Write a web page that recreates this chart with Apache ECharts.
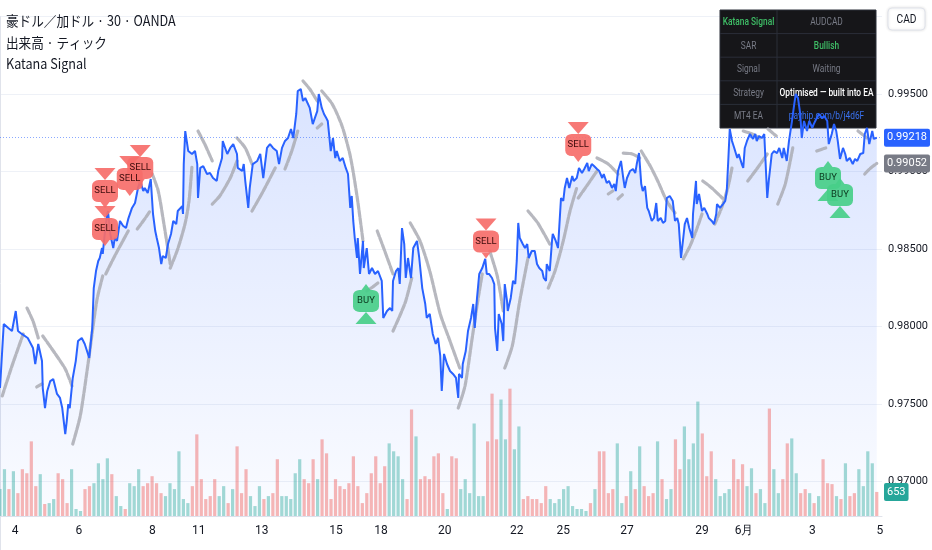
<!DOCTYPE html>
<html><head><meta charset="utf-8">
<script src="https://cdn.jsdelivr.net/npm/echarts@6/dist/echarts.min.js"></script>
<style>html,body{margin:0;padding:0;background:#fff}#c{width:932px;height:550px}</style>
</head><body><div id="c"></div>
<script>
// ---------- DATA ----------
const titleLines = ['豪ドル／加ドル · 30 · OANDA', '出来高 · ティック', 'Katana Signal'];
const currencyLabel = 'CAD';
// x = 30-minute bar index, y = AUDCAD price
const pricePoints = [[0,0.97603],[5,0.98016],[11,0.97990],[16,0.97971],[21,0.98100],[24,0.97971],[29,0.97952],[37,0.97926],[44,0.97861],[47,0.97758],[51,0.97887],[56,0.97777],[57,0.97603],[60,0.97474],[63,0.97584],[67,0.97648],[71,0.97661],[76,0.97565],[80,0.97539],[83,0.97474],[87,0.97306],[89,0.97390],[91,0.97500],[93,0.97474],[97,0.97668],[101,0.97777],[104,0.97906],[109,0.97926],[113,0.97887],[116,0.97842],[119,0.97797],[123,0.97990],[125,0.98248],[128,0.98358],[131,0.98423],[133,0.98442],[136,0.98506],[137,0.98468],[140,0.98616],[143,0.98726],[144,0.98745],[147,0.98597],[151,0.98506],[153,0.98571],[156,0.98552],[160,0.98681],[164,0.98650],[168,0.98635],[171,0.98694],[176,0.98765],[180,0.98797],[184,0.98894],[187,0.98939],[191,0.98874],[193,0.98894],[197,0.98861],[201,0.98952],[204,0.98726],[207,0.98616],[209,0.98571],[212,0.98506],[215,0.98403],[217,0.98455],[221,0.98442],[224,0.98532],[228,0.98597],[231,0.98681],[235,0.98661],[237,0.98745],[243,0.98777],[244,0.98726],[245,0.99048],[247,0.99261],[251,0.99132],[256,0.99113],[260,0.99132],[263,0.99048],[264,0.98829],[267,0.99023],[271,0.99035],[276,0.98984],[280,0.98990],[284,0.98958],[289,0.98939],[291,0.99003],[296,0.99087],[297,0.99197],[303,0.99113],[307,0.99152],[311,0.99177],[316,0.99113],[317,0.99023],[323,0.99003],[325,0.99048],[327,0.98939],[331,0.98765],[333,0.98894],[337,0.99048],[343,0.99068],[347,0.99113],[351,0.98958],[356,0.99152],[360,0.99177],[364,0.99152],[369,0.99132],[372,0.99048],[376,0.99152],[380,0.99197],[384,0.99216],[388,0.99274],[391,0.99216],[395,0.99371],[397,0.99519],[401,0.99532],[404,0.99455],[407,0.99474],[409,0.99474],[413,0.99410],[417,0.99306],[423,0.99390],[425,0.99500],[429,0.99410],[432,0.99371],[435,0.99345],[437,0.99326],[441,0.99132],[444,0.99216],[447,0.99087],[449,0.99132],[453,0.99068],[457,0.99087],[461,0.99023],[464,0.98984],[467,0.98765],[469,0.98842],[471,0.98681],[473,0.98571],[476,0.98442],[477,0.98571],[480,0.98339],[484,0.98552],[485,0.98377],[489,0.98506],[492,0.98339],[496,0.98377],[500,0.98339],[504,0.98358],[509,0.98294],[511,0.98055],[516,0.98100],[520,0.98119],[523,0.98100],[524,0.98294],[528,0.98358],[531,0.98377],[533,0.98274],[536,0.98635],[539,0.98532],[541,0.98313],[544,0.98442],[548,0.98313],[551,0.98506],[556,0.98552],[559,0.98442],[563,0.98248],[567,0.98145],[569,0.98055],[573,0.98081],[577,0.97952],[581,0.97887],[584,0.97926],[587,0.97810],[589,0.97584],[592,0.97823],[596,0.97758],[600,0.97713],[604,0.97694],[608,0.97668],[611,0.97539],[612,0.97694],[616,0.97668],[617,0.97758],[621,0.97842],[624,0.97971],[628,0.98055],[631,0.98145],[633,0.97990],[636,0.98184],[639,0.98339],[643,0.98377],[647,0.98436],[649,0.98339],[652,0.98339],[656,0.98313],[659,0.98274],[660,0.97990],[663,0.97842],[665,0.98081],[669,0.98016],[671,0.97906],[673,0.98274],[676,0.98165],[677,0.98100],[681,0.98184],[684,0.98294],[687,0.98274],[689,0.98423],[691,0.98668],[693,0.98571],[697,0.98532],[700,0.98506],[703,0.98532],[705,0.98442],[709,0.98487],[713,0.98487],[716,0.98403],[719,0.98377],[723,0.98358],[725,0.98313],[728,0.98294],[729,0.98403],[733,0.98358],[736,0.98552],[737,0.98597],[741,0.98552],[744,0.98506],[748,0.98829],[751,0.98810],[753,0.98894],[756,0.98958],[759,0.98894],[763,0.98971],[765,0.98939],[769,0.98958],[772,0.99023],[776,0.98990],[779,0.99016],[783,0.99055],[785,0.99003],[789,0.99048],[792,0.99035],[796,0.99016],[799,0.99003],[803,0.98958],[805,0.98984],[809,0.98926],[812,0.98939],[816,0.98894],[819,0.98919],[821,0.98874],[824,0.99003],[828,0.99068],[831,0.98958],[833,0.98894],[836,0.98958],[840,0.99003],[844,0.99016],[847,0.98990],[849,0.99048],[852,0.99119],[855,0.98919],[857,0.98874],[860,0.98906],[863,0.98765],[865,0.98745],[869,0.98681],[872,0.98700],[875,0.98797],[877,0.98681],[881,0.98700],[884,0.98668],[887,0.98681],[889,0.98829],[893,0.98842],[897,0.98810],[900,0.98681],[903,0.98700],[905,0.98661],[908,0.98442],[911,0.98571],[913,0.98661],[916,0.98700],[919,0.98635],[923,0.98571],[924,0.98726],[928,0.98939],[929,0.98790],[932,0.98855],[936,0.98745],[939,0.98765],[943,0.98726],[945,0.98700],[949,0.98681],[952,0.98661],[955,0.98726],[956,0.98790],[960,0.98765],[964,0.98790],[967,0.98810],[969,0.98874],[971,0.99068],[973,0.99274],[976,0.99197],[979,0.99152],[983,0.99087],[985,0.99113],[989,0.99048],[991,0.99023],[993,0.99152],[996,0.99197],[1000,0.99242],[1004,0.99210],[1007,0.99242],[1009,0.99197],[1012,0.99229],[1016,0.99216],[1019,0.99242],[1021,0.99248],[1023,0.98829],[1025,0.98939],[1029,0.99113],[1032,0.99132],[1036,0.99119],[1039,0.99152],[1043,0.99087],[1045,0.99152],[1049,0.99068],[1052,0.99197],[1056,0.99326],[1059,0.99435],[1061,0.99500],[1064,0.99474],[1067,0.99371],[1069,0.99216],[1072,0.99326],[1076,0.99261],[1079,0.99326],[1083,0.99281],[1085,0.99306],[1089,0.99345],[1092,0.99371],[1096,0.99345],[1099,0.99358],[1103,0.99326],[1105,0.99177],[1109,0.99242],[1112,0.99306],[1115,0.99261],[1117,0.99197],[1120,0.99081],[1124,0.99152],[1127,0.99113],[1129,0.99068],[1133,0.99087],[1137,0.99048],[1140,0.99081],[1143,0.99068],[1147,0.99113],[1151,0.99119],[1153,0.99242],[1156,0.99281],[1159,0.99177],[1163,0.99261],[1165,0.99210],[1169,0.99218]];

// Parabolic SAR segments (each a list of [bar, value])
const sarSegments = [
 [[3,0.97552],[16,0.97746],[31,0.97952]],
 [[36,0.98119],[44,0.98035],[51,0.97926]],
 [[49,0.97610],[56,0.97629]],
 [[57,0.97939],[73,0.97829],[87,0.97726],[96,0.97616]],
 [[97,0.97242],[107,0.97423],[117,0.97746],[129,0.98165],[137,0.98326]],
 [[141,0.98339],[153,0.98455],[171,0.98616]],
 [[183,0.98629],[193,0.98694],[200,0.98745]],
 [[203,0.98984],[211,0.98874],[219,0.98648],[227,0.98403]],
 [[227,0.98377],[237,0.98500],[247,0.98668],[252,0.98810],[256,0.99035]],
 [[264,0.99261],[273,0.99177],[283,0.99068]],
 [[283,0.98790],[293,0.98842],[307,0.98958],[316,0.99068]],
 [[316,0.99216],[327,0.99152],[336,0.99048]],
 [[336,0.98745],[351,0.98874],[367,0.99023]],
 [[380,0.99016],[389,0.99132],[397,0.99261]],
 [[404,0.99584],[413,0.99532],[423,0.99455]],
 [[423,0.99281],[429,0.99306]],
 [[429,0.99519],[443,0.99435],[456,0.99294],[467,0.99100],[476,0.98842],[484,0.98552]],
 [[489,0.98229],[497,0.98255],[504,0.98281]],
 [[503,0.98616],[513,0.98487],[524,0.98339]],
 [[524,0.97971],[533,0.98068],[541,0.98165],[549,0.98313]],
 [[547,0.98668],[560,0.98552],[573,0.98358],[587,0.98081],[600,0.97906],[613,0.97732]],
 [[611,0.97474],[620,0.97616],[629,0.97906],[637,0.98165],[643,0.98339]],
 [[653,0.98487],[663,0.98326],[671,0.98100]],
 [[673,0.97732],[683,0.97874],[693,0.98165],[704,0.98442]],
 [[704,0.98745],[717,0.98668],[733,0.98532]],
 [[731,0.98248],[740,0.98358],[751,0.98552],[760,0.98745],[769,0.98894]],
 [[771,0.98829],[784,0.98919],[796,0.99003]],
 [[796,0.99087],[811,0.99048],[824,0.98984]],
 [[811,0.98855],[817,0.98874]],
 [[824,0.98823],[831,0.98855]],
 [[831,0.99119],[843,0.99113],[853,0.99087]],
 [[855,0.99132],[867,0.99035],[877,0.98939],[889,0.98810],[900,0.98732]],
 [[911,0.98436],[920,0.98519],[929,0.98629],[936,0.98726]],
 [[937,0.98939],[949,0.98894],[963,0.98829]],
 [[953,0.98661],[963,0.98777],[971,0.98906],[976,0.99023]],
 [[991,0.99261],[1003,0.99242],[1013,0.99216]],
 [[997,0.98939],[1009,0.99016],[1023,0.99113]],
 [[1024,0.99274],[1035,0.99229]],
 [[1037,0.98790],[1047,0.98919],[1057,0.99152]],
 [[1089,0.99132],[1101,0.99152]],
 [[1144,0.99261],[1156,0.99216]],
 [[1153,0.98984],[1161,0.99023],[1169,0.99052]]
];

// Tick volume (evenly spaced samples across the period)
const volumeValues = [730,1270,730,1215,620,1270,1160,2025,810,1135,
325,350,460,1160,1000,350,1270,190,135,730,
810,890,1430,1000,1565,1135,540,270,190,890,
810,1270,810,890,1080,890,620,540,890,730,
1755,460,350,810,2215,1000,460,540,1000,540,
810,350,730,1890,620,1270,540,270,810,460,
540,620,1540,540,540,460,1160,1540,1000,890,
1540,1000,2080,1700,460,1000,810,730,890,1620,
810,350,620,1160,1620,890,1350,1970,1755,1620,
1000,460,2890,2160,1000,1080,1000,1620,
1700,620,190,1620,1565,730,1000,620,2510,540,
540,2025,3320,2080,3160,2080,3455,1810,2430,460,
540,460,460,350,810,460,350,460,730,810,
270,190,190,135,350,730,1755,1755,620,730,
1970,350,540,1215,730,1890,810,540,620,2025,
1000,460,730,2080,1270,2430,1540,1970,3105,2240,
1080,1755,1000,540,620,730,1540,1000,1405,810,
1295,620,730,350,2915,1270,620,1000,1970,2105,
1160,620,730,620,350,540,1540,890,865,540,
460,1430,540,620,1270,810,1755,1430,653];

const sellSignals = [[140,0.98874],[140,0.98629],[173,0.98952],[187,0.99023],[648,0.98548],[771,0.99171]];
const buySignals = [[488,0.98165],[1104,0.98958],[1120,0.98848]];

const dayTickBars = [20,105,203,265,349,448,508,593,689,751,836,936,992,1083,1173];
const dayTickLabels = ['4','6','8','11','13','15','18','20','22','25','27','29','6月','3','5'];

const tableRows = [
  ['Katana Signal','AUDCAD'],
  ['SAR','Bullish'],
  ['Signal','Waiting'],
  ['Strategy','Optimised — built into EA'],
  ['MT4 EA','payhip.com/b/j4d6F']
];
const tableColors = [
  ['#3fbf67','#787b86'],
  ['#787b86','#3fbf67'],
  ['#787b86','#787b86'],
  ['#787b86','#ffffff'],
  ['#787b86','#3a72f0']
];
const tableBold = [[true,false],[false,true],[false,false],[false,true],[false,false]];

const priceMin = 0.965, priceMax = 1.0, priceStep = 0.005;
const paneFloor = 0.9677;
const barMax = 1176;
const volumeMax = 3500;

// ---------- BUILD ----------
const FONT = "Roboto,'Noto Sans',sans-serif";
const lastPrice = pricePoints[pricePoints.length - 1][1];
const lastSarSeg = sarSegments[sarSegments.length - 1];
const lastSar = lastSarSeg[lastSarSeg.length - 1][1];
const lastVolume = volumeValues[volumeValues.length - 1];
const lastBar = pricePoints[pricePoints.length - 1][0];

function priceAt(b) {
  for (let i = 1; i < pricePoints.length; i++) {
    if (pricePoints[i][0] >= b) {
      const a = pricePoints[i - 1], c = pricePoints[i];
      const t = (b - a[0]) / ((c[0] - a[0]) || 1);
      return a[1] + (c[1] - a[1]) * t;
    }
  }
  return lastPrice;
}

const vStep = lastBar / (volumeValues.length - 1);
const volumeData = volumeValues.map((v, i) => {
  const b = i * vStep;
  const up = priceAt(b) >= priceAt(Math.max(0, b - vStep));
  return { value: [b, v], itemStyle: { color: up ? 'rgba(38,166,154,0.42)' : 'rgba(239,83,80,0.42)' } };
});

const sarData = [];
sarSegments.forEach((seg, i) => {
  if (i > 0) sarData.push([seg[0][0], '-']);
  seg.forEach(p => sarData.push(p));
});

const graphics = [];
titleLines.forEach((t, i) => {
  graphics.push({
    type: 'text', x: 6, y: 21 + i * 21.5, scaleX: 0.9, z: 20,
    style: { text: t, fill: '#131722', font: "14px 'Noto Sans CJK JP','Noto Sans',sans-serif", verticalAlign: 'middle' }
  });
});
const TX = 720, TY = 10, CW = [57, 99], RH = 23.6;
const tableChildren = [{
  type: 'rect', z: 3, shape: { x: 0, y: 0, width: CW[0] + CW[1], height: RH * tableRows.length },
  style: { fill: 'rgba(12,13,16,0.96)', stroke: '#2a2e39', lineWidth: 1 }
}];
for (let r = 1; r < tableRows.length; r++) {
  tableChildren.push({ type: 'line', z: 3, shape: { x1: 0, y1: r * RH, x2: CW[0] + CW[1], y2: r * RH }, style: { stroke: '#2a2e39', lineWidth: 1 } });
}
tableChildren.push({ type: 'line', z: 3, shape: { x1: CW[0], y1: 0, x2: CW[0], y2: RH * tableRows.length }, style: { stroke: '#2a2e39', lineWidth: 1 } });
tableRows.forEach((row, r) => {
  row.forEach((txt, c) => {
    tableChildren.push({
      type: 'text', z: 3, x: c === 0 ? CW[0] / 2 : CW[0] + CW[1] / 2, y: r * RH + RH / 2 + 0.5, scaleX: 0.76,
      style: { text: txt, fill: tableColors[r][c], align: 'center', verticalAlign: 'middle',
        font: (tableBold[r][c] ? '500 ' : '') + '11px ' + FONT }
    });
  });
});
graphics.push({ type: 'group', x: TX, y: TY, children: tableChildren });
graphics.push({
  type: 'rect', z: 20, shape: { x: 888, y: 8, width: 37, height: 22, r: 4 },
  style: { fill: '#ffffff', stroke: '#e0e3eb', lineWidth: 1, shadowBlur: 3, shadowColor: 'rgba(0,0,0,0.12)' }
});
graphics.push({
  type: 'text', z: 21, x: 906.5, y: 19.5, scaleX: 0.85,
  style: { text: currencyLabel, fill: '#131722', align: 'center', verticalAlign: 'middle', font: '12px ' + FONT }
});

function markLabel(bg, fmt) {
  return {
    show: true, position: 'end', distance: 2, formatter: fmt, color: '#fff', backgroundColor: bg,
    padding: [4, 3, 3, 3], borderRadius: 2, fontSize: 11, fontFamily: FONT, opacity: 1
  };
}

const sellColor = 'rgba(246,110,106,0.92)';
const buyColor = 'rgba(72,206,137,0.92)';

const option = {
  animation: false,
  backgroundColor: '#ffffff',
  grid: [
    { left: 0, top: 16.5, width: 882, height: 542.5, containLabel: false, outerBoundsMode: 'none' },
    { left: 0, top: 387, width: 882, height: 129, containLabel: false, outerBoundsMode: 'none' }
  ],
  xAxis: [
    { type: 'value', gridIndex: 0, min: 0, max: barMax, show: false },
    { type: 'value', gridIndex: 1, min: 0, max: barMax,
      axisLine: { show: true, lineStyle: { color: '#e0e3eb' } },
      axisTick: { show: false }, splitLine: { show: false },
      axisLabel: { customValues: dayTickBars, margin: 9, color: '#131722', fontSize: 12, fontFamily: FONT,
        formatter: v => { const i = dayTickBars.indexOf(v); return i >= 0 ? dayTickLabels[i] : ''; } } }
  ],
  yAxis: [
    { type: 'value', gridIndex: 0, position: 'right', min: priceMin, max: priceMax, interval: priceStep,
      axisLine: { show: true, lineStyle: { color: '#e0e3eb' } }, axisTick: { show: false },
      splitLine: { show: true, lineStyle: { color: '#eef1f7', width: 1 } },
      axisLabel: { margin: 6, color: '#131722', fontSize: 11, fontFamily: FONT,
        formatter: v => (v > priceMax - 1e-6 || v < priceMin + 1e-6) ? '' : v.toFixed(5) } },
    { type: 'value', gridIndex: 1, min: 0, max: volumeMax, show: false }
  ],
  graphic: graphics,
  series: [
    { name: 'area', type: 'line', xAxisIndex: 0, yAxisIndex: 0, data: pricePoints, showSymbol: false, silent: true, z: 1,
      lineStyle: { width: 0 },
      areaStyle: { origin: paneFloor, color: new echarts.graphic.LinearGradient(0, 0, 0, 1, [
        { offset: 0, color: 'rgba(41,98,255,0.25)' }, { offset: 1, color: 'rgba(41,98,255,0.03)' }]) } },
    { name: 'volume', type: 'bar', xAxisIndex: 1, yAxisIndex: 1, data: volumeData, barWidth: 3.2, z: 2, silent: true,
      markLine: { symbol: ['none', 'none'], silent: true, precision: 0, lineStyle: { color: 'transparent', width: 0 },
        data: [{ yAxis: lastVolume }], label: markLabel('#26a69a', () => String(lastVolume)) } },
    { name: 'sar', type: 'line', xAxisIndex: 0, yAxisIndex: 0, data: sarData, showSymbol: false, connectNulls: false,
      smooth: 0.25, z: 4, silent: true,
      lineStyle: { color: 'rgba(170,172,180,0.85)', width: 3.2, type: [6, 1.5], cap: 'round' },
      markLine: { symbol: ['none', 'none'], silent: true, precision: 5, lineStyle: { color: 'transparent', width: 0 },
        data: [{ yAxis: lastSar }], label: markLabel('#787b86', () => lastSar.toFixed(5)) } },
    { name: 'price', type: 'line', xAxisIndex: 0, yAxisIndex: 0, data: pricePoints, showSymbol: false, z: 5, silent: true,
      lineStyle: { color: '#2962ff', width: 2 },
      markLine: { symbol: ['none', 'none'], silent: true, precision: 5,
        lineStyle: { color: 'rgba(41,98,255,0.55)', type: [1, 2], width: 1 },
        data: [{ yAxis: lastPrice }], label: markLabel('#2962ff', () => lastPrice.toFixed(5)) } },
    { name: 'sellTri', type: 'scatter', data: sellSignals, symbol: 'triangle', symbolRotate: 180,
      symbolSize: [21, 12], symbolOffset: [0, -17], z: 6, silent: true, itemStyle: { color: sellColor, opacity: 1 } },
    { name: 'sellTail', type: 'scatter', data: sellSignals, symbol: 'triangle', symbolRotate: 180,
      symbolSize: [9, 6], symbolOffset: [0, 14], z: 6, silent: true, itemStyle: { color: sellColor, opacity: 1 } },
    { name: 'sellBox', type: 'scatter', data: sellSignals, symbol: 'roundRect', symbolSize: [26, 22], z: 7, silent: true,
      itemStyle: { color: sellColor, opacity: 1 },
      label: { show: true, position: 'inside', formatter: 'SELL', color: '#3d0b0b', fontSize: 9.5, fontFamily: FONT } },
    { name: 'buyTri', type: 'scatter', data: buySignals, symbol: 'triangle',
      symbolSize: [21, 12], symbolOffset: [0, 17], z: 6, silent: true, itemStyle: { color: buyColor, opacity: 1 } },
    { name: 'buyTail', type: 'scatter', data: buySignals, symbol: 'triangle',
      symbolSize: [9, 6], symbolOffset: [0, -14], z: 6, silent: true, itemStyle: { color: buyColor, opacity: 1 } },
    { name: 'buyBox', type: 'scatter', data: buySignals, symbol: 'roundRect', symbolSize: [26, 22], z: 7, silent: true,
      itemStyle: { color: buyColor, opacity: 1 },
      label: { show: true, position: 'inside', formatter: 'BUY', color: '#0b3a1f', fontSize: 9.5, fontFamily: FONT } }
  ]
};

const chart = echarts.init(document.getElementById('c'), null, { renderer: 'canvas' });
chart.setOption(option);
</script>
</body></html>
